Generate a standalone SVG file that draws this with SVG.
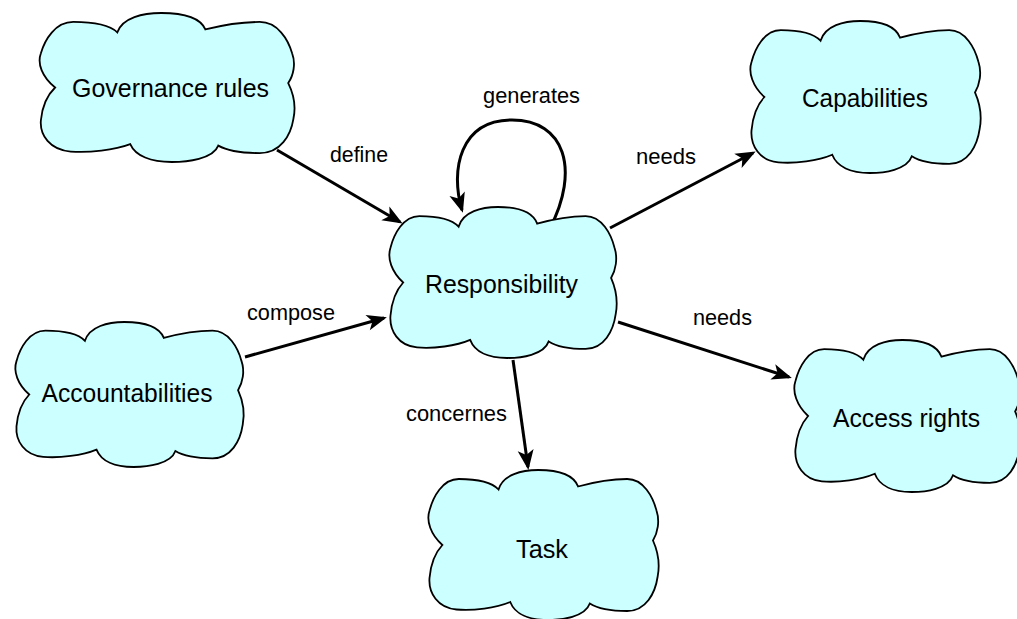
<svg xmlns="http://www.w3.org/2000/svg" xmlns:xlink="http://www.w3.org/1999/xlink" width="1017" height="619" viewBox="0 0 1017 619">
<style>
.cloud{fill:#ccffff;stroke:#000;stroke-width:1.8;vector-effect:non-scaling-stroke}
.lbl{font-family:"Liberation Sans",Arial,sans-serif;font-size:26px;fill:#000;text-anchor:middle}
.elbl{font-family:"Liberation Sans",Arial,sans-serif;font-size:22px;fill:#000}
.edge{fill:none;stroke:#000;stroke-width:3;marker-end:url(#ah)}
</style>
<defs>
<path id="cloudshape" class="cloud" d="M7,50 C2,43 0,34 1.5,27 C3,18 7,6 14,6 C21,6 28,8 31,13 C33,3 41,0 48,0 C56,0 63,3 65,11 C72,8 79,6 86,6 C93,6 97,18 98.5,27 C100,34 99,42 97,47 C99,54 100,63 99,71 C98,82 94,94 86,94 C79,94 73,92 70,89 C68,98 58,100 52,100 C44,100 38,96 36,88 C30,92 20,94 13,93 C5,92 1,82 1.5,72 C2,63 4,55 7,50 Z"/>
<marker id="ah" markerUnits="userSpaceOnUse" markerWidth="24" markerHeight="20" refX="17" refY="10" orient="auto" overflow="visible">
<path d="M0,2 L20,10 L0,18 L5,10 Z" fill="#000"/>
</marker>
</defs>
<rect width="1017" height="619" fill="#fff"/>
<g id="connectors">
<path class="edge" d="M277,150 L400,222"/>
<path class="edge" d="M245,357 L384,318"/>
<path class="edge" d="M550,228 C580,170 565,120 512,120 C460,120 450,170 462,210"/>
<path class="edge" d="M610,228 L753,153"/>
<path class="edge" d="M618,322 L789,377"/>
<path class="edge" d="M513,360 L528,467"/>
<text class="elbl" x="330" y="162" textLength="58" lengthAdjust="spacingAndGlyphs">define</text>
<text class="elbl" x="483" y="103" textLength="97" lengthAdjust="spacingAndGlyphs">generates</text>
<text class="elbl" x="636" y="164" textLength="60" lengthAdjust="spacingAndGlyphs">needs</text>
<text class="elbl" x="247" y="320" textLength="88" lengthAdjust="spacingAndGlyphs">compose</text>
<text class="elbl" x="693" y="325" textLength="59" lengthAdjust="spacingAndGlyphs">needs</text>
<text class="elbl" x="406" y="421" textLength="101" lengthAdjust="spacingAndGlyphs">concernes</text>
</g>
<g id="governance">
<use xlink:href="#cloudshape" transform="translate(37,13) scale(2.59,1.49)"/>
<text class="lbl" x="170.5" y="97" textLength="197" lengthAdjust="spacingAndGlyphs">Governance rules</text>
</g>
<g id="responsibility">
<use xlink:href="#cloudshape" transform="translate(387,207) scale(2.31,1.51)"/>
<text class="lbl" x="501.5" y="293" textLength="153" lengthAdjust="spacingAndGlyphs">Responsibility</text>
</g>
<g id="capabilities">
<use xlink:href="#cloudshape" transform="translate(748,21) scale(2.34,1.52)"/>
<text class="lbl" x="865" y="107" textLength="126" lengthAdjust="spacingAndGlyphs">Capabilities</text>
</g>
<g id="accountabilities">
<use xlink:href="#cloudshape" transform="translate(13,322) scale(2.32,1.45)"/>
<text class="lbl" x="127" y="402" textLength="171" lengthAdjust="spacingAndGlyphs">Accountabilities</text>
</g>
<g id="accessrights">
<use xlink:href="#cloudshape" transform="translate(792,340) scale(2.30,1.52)"/>
<text class="lbl" x="906.5" y="427" textLength="147" lengthAdjust="spacingAndGlyphs">Access rights</text>
</g>
<g id="task">
<use xlink:href="#cloudshape" transform="translate(426,470) scale(2.34,1.50)"/>
<text class="lbl" x="542" y="558" textLength="52" lengthAdjust="spacingAndGlyphs">Task</text>
</g>
</svg>
